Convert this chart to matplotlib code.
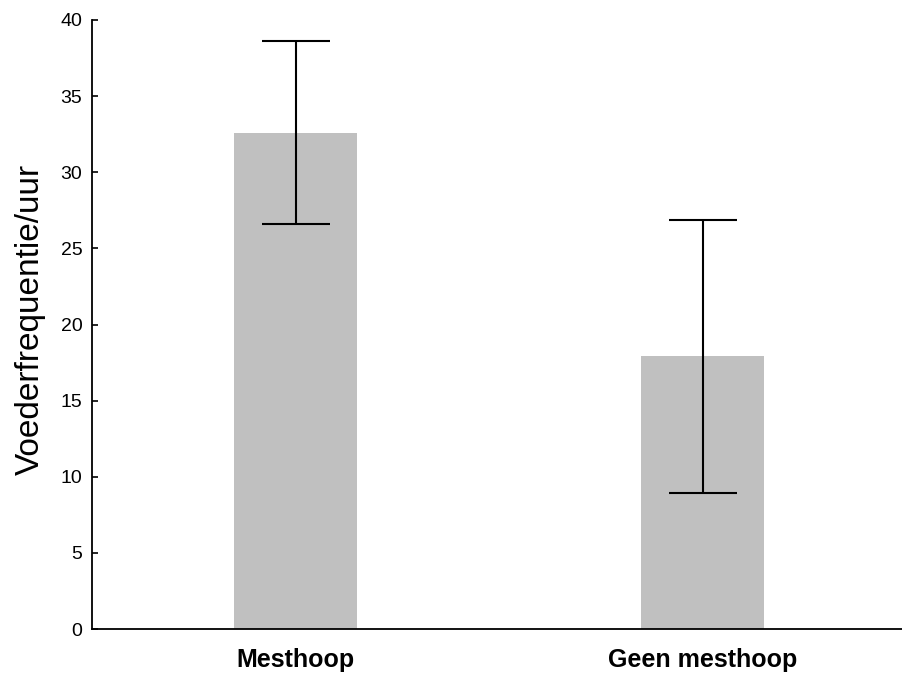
import matplotlib
matplotlib.use('Agg')
import matplotlib.pyplot as plt
import numpy as np

plt.rcParams['font.family'] = ['Liberation Sans', 'DejaVu Sans']

# data
categories = ['Mesthoop', 'Geen mesthoop']
means = [32.6, 17.9]
errors = [6.0, 8.95]
yticks = [0, 5, 10, 15, 20, 25, 30, 35, 40]

fig = plt.figure(figsize=(9.02, 6.81), dpi=100)
ax = fig.add_axes([92 / 902, 52 / 681, 814 / 902, 609 / 681])

x = np.arange(len(categories))
ax.bar(x, means, width=0.30, color='#c0c0c0', zorder=1)
ax.errorbar(x, means, yerr=errors, fmt='none', ecolor='black',
            elinewidth=1.5, capsize=24.5, capthick=1.5, zorder=2)

ax.set_xlim(-0.5, 1.5)
ax.set_ylim(0, 40)
ax.set_yticks(yticks)
ax.set_yticklabels([str(t) for t in yticks], fontsize=14)
ax.tick_params(axis='y', direction='in', length=4, width=1.2, pad=7)
ax.tick_params(axis='x', length=0, pad=14)
ax.set_xticks(x)
ax.set_xticklabels(categories, fontsize=18, fontweight='bold')
ax.set_ylabel('Voederfrequentie/uur', fontsize=24)
ax.yaxis.set_label_coords(-0.057, 0.508)

ax.spines['top'].set_visible(False)
ax.spines['right'].set_visible(False)
ax.spines['left'].set_linewidth(1.3)
ax.spines['bottom'].set_linewidth(1.3)

fig.savefig('out.png', dpi=100)
